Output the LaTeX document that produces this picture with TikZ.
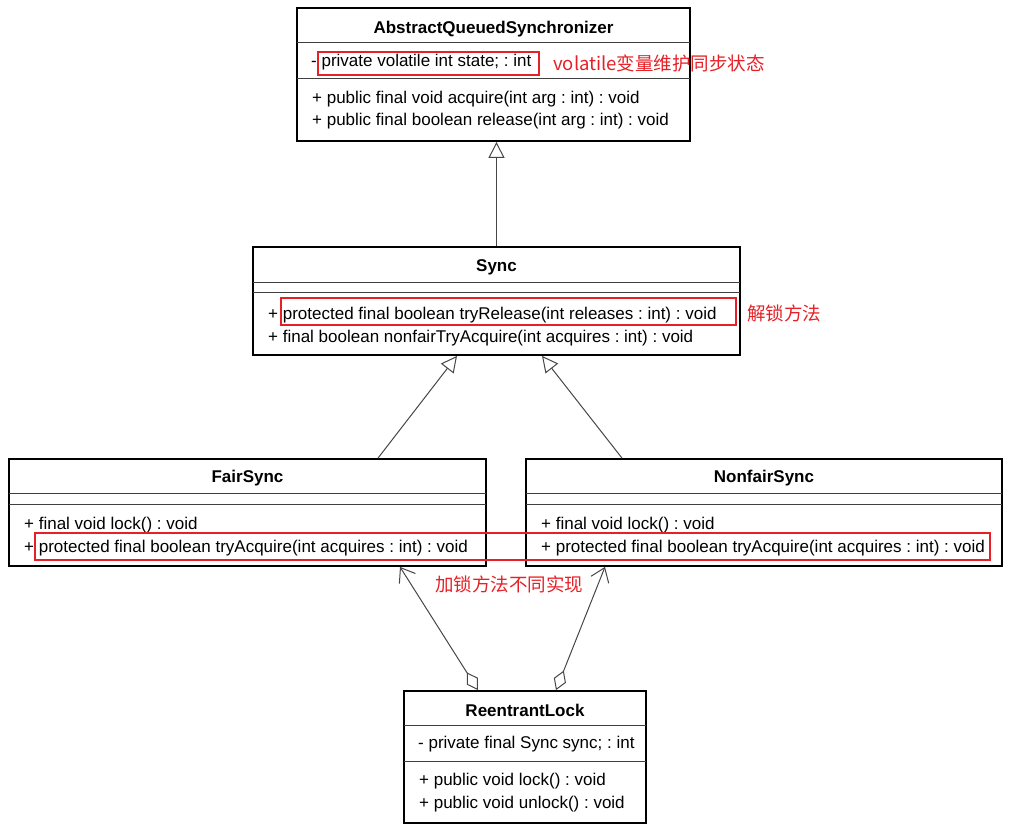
\documentclass[tikz,border=0pt]{standalone}
\usepackage{fontspec}
\setmainfont{Liberation Sans}
\newfontfamily\cjk{Noto Sans CJK SC}
\usetikzlibrary{arrows.meta}
\frenchspacing
\definecolor{markred}{RGB}{230,32,38}
\definecolor{wire}{RGB}{70,70,70}
\tikzset{
  classbox/.style={draw,line width=1.8pt,inner sep=0pt},
  classname/.style={inner sep=0pt,font=\fontsize{17}{20}\selectfont\bfseries},
  member/.style={anchor=west,inner sep=0pt,yshift=-1.5pt,font=\fontsize{17}{20}\selectfont},
  divider/.style={line width=1pt,black!75},
  extends/.style={-{Triangle[open,length=16pt,width=16pt]},line width=1pt,wire},
  holds/.style={{Diamond[open,length=21pt,width=13pt]}-{Straight Barb[length=13pt,width=19pt]},line width=1pt,wire},
  hilite/.style={draw=markred,line width=1.4pt},
  note/.style={inner sep=0pt,text=markred,font=\cjk\fontsize{18.5}{22}\selectfont}
}
\begin{document}
\begin{tikzpicture}[x=1pt,y=-1pt]
  \useasboundingbox (0,0) rectangle (1012,832);

  % AbstractQueuedSynchronizer
  \node[classbox,minimum width=393pt,minimum height=133pt] (aqs) at (493.5,74.5) {};
  \node[classname] (aqs-name) at (493.5,29) {AbstractQueuedSynchronizer};
  \draw[divider] (297,43) -- (690,43);
  \draw[divider] (297,79) -- (690,79);
  \node[member] (aqs-state) at (311,61) {- private volatile int state; : int};
  \node[member] (aqs-acq) at (312,98) {+ public final void acquire(int arg : int) : void};
  \node[member] (aqs-rel) at (312,120) {+ public final boolean release(int arg : int) : void};

  % Sync
  \node[classbox,minimum width=487pt,minimum height=108pt] (sync) at (496.5,301) {};
  \node[classname] (sync-name) at (496.5,267) {Sync};
  \foreach \y in {282,292} {
    \draw[divider] (253,\y) -- (740,\y);
  }
  \node[member] (sync-rel) at (268,314) {+ protected final boolean tryRelease(int releases : int) : void};
  \node[member] (sync-nfa) at (268,337) {+ final boolean nonfairTryAcquire(int acquires : int) : void};

  % FairSync and NonfairSync
  \node[classbox,minimum width=477pt,minimum height=107pt] (fair) at (247.5,512.5) {};
  \node[classbox,minimum width=476pt,minimum height=107pt] (nonfair) at (764,512.5) {};
  \node[classname] (fair-name) at (247.5,478) {FairSync};
  \node[classname] (nonfair-name) at (764,478) {NonfairSync};
  \foreach \y in {493,504} {
    \draw[divider] (9,\y) -- (486,\y);
    \draw[divider] (526,\y) -- (1002,\y);
  }
  \node[member] (fair-lock) at (24,524) {+ final void lock() : void};
  \node[member] (fair-acq) at (24,547) {+ protected final boolean tryAcquire(int acquires : int) : void};
  \node[member] (nonfair-lock) at (541,524) {+ final void lock() : void};
  \node[member] (nonfair-acq) at (541,547) {+ protected final boolean tryAcquire(int acquires : int) : void};

  % ReentrantLock
  \node[classbox,minimum width=242pt,minimum height=132pt] (lock) at (525,757) {};
  \node[classname] (lock-name) at (525,710) {ReentrantLock};
  \foreach \y in {725,761} {
    \draw[divider] (404,\y) -- (646,\y);
  }
  \node[member] (lock-sync) at (418,743) {- private final Sync sync; : int};
  \node[member] (lock-lock) at (419,780) {+ public void lock() : void};
  \node[member] (lock-unlock) at (419,803) {+ public void unlock() : void};

  % Relations
  \draw[extends] (sync.north) -- (sync.north |- aqs.south);
  \draw[extends] ([xshift=130.5pt]fair.north) -- ([xshift=-39.5pt]sync.south);
  \draw[extends] ([xshift=-142pt]nonfair.north) -- ([xshift=45.5pt]sync.south);
  \draw[holds] ([xshift=-47pt]lock.north) -- ([xshift=152.5pt]fair.south);
  \draw[holds] ([xshift=31pt]lock.north) -- ([xshift=-159pt]nonfair.south);

  % Red marks
  \draw[hilite] (318,52) rectangle (539,75);
  \draw[hilite] (281,298) rectangle (736,325);
  \draw[hilite] (35,533) rectangle (990,560);
  \node[note,anchor=west] (note-state) at (553,63) {volatile变量维护同步状态};
  \node[note,anchor=west] (note-release) at (747,313) {解锁方法};
  \node[note] (note-acquire) at (509,584) {加锁方法不同实现};
\end{tikzpicture}
\end{document}
